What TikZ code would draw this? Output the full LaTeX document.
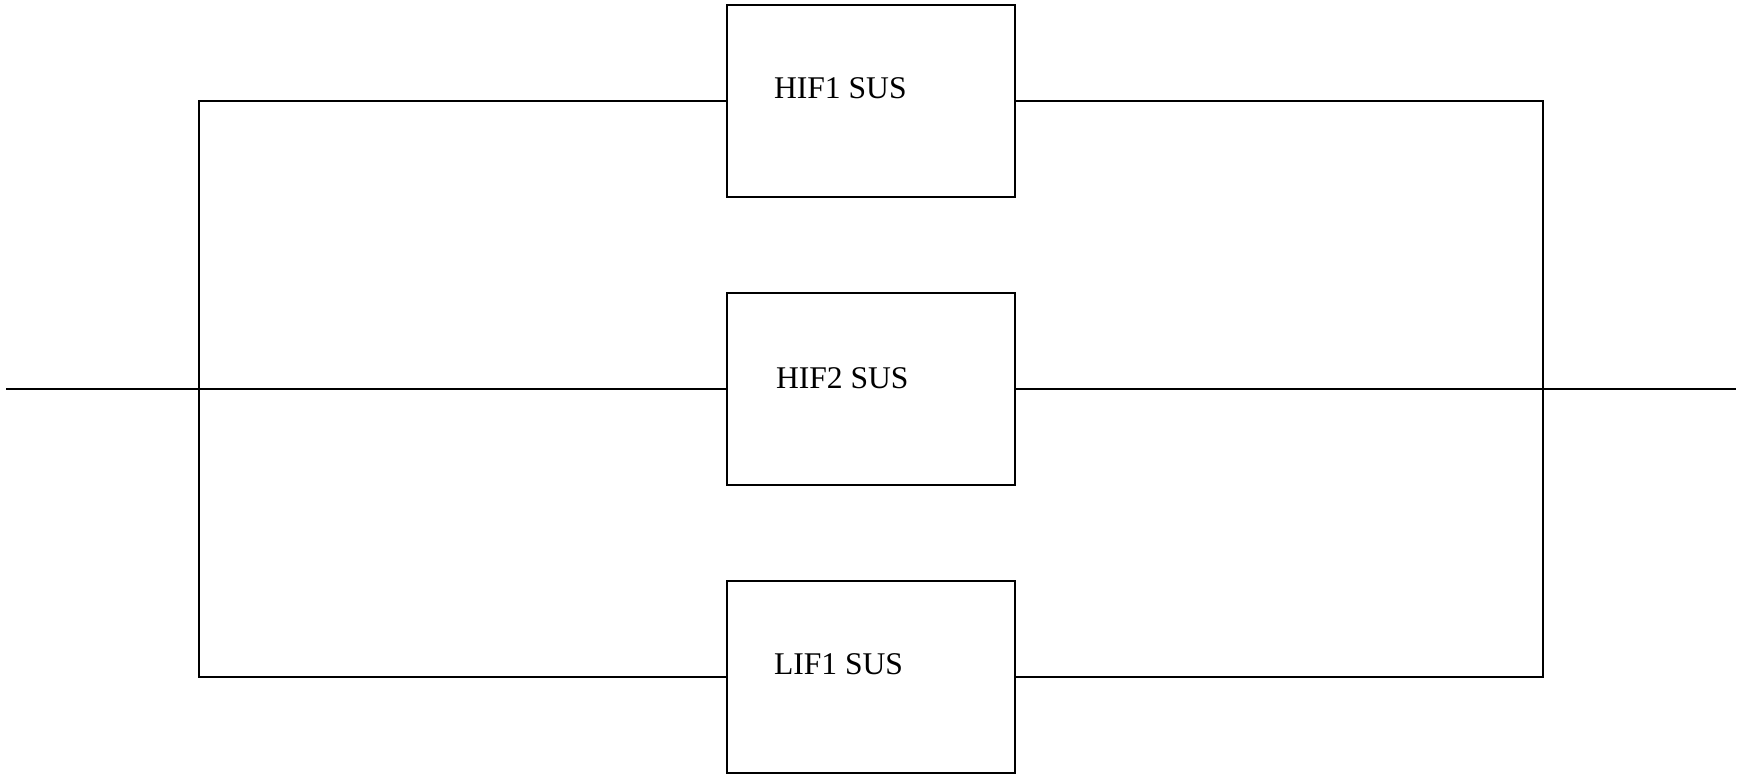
\documentclass[tikz,border=0pt]{standalone}
\usepackage{fontspec}
\setmainfont{Liberation Serif}
\usepackage{tikz}
\usetikzlibrary{positioning}
\tikzstyle{unitbox} = [
    draw,
    line width=1pt,
    minimum width=144pt,
    minimum height=96pt,
    inner sep=0pt
]
\tikzstyle{unitname} = [
    anchor=base west,
    inner sep=0pt,
    font=\fontsize{15.8}{19}\selectfont
]

\begin{document}
\begin{tikzpicture}[x=0.5pt,y=-0.5pt,line width=1pt]

\useasboundingbox (0,0) rectangle (1741,774);

\node[unitbox] (hif1) at (871,101) {};

\node[unitbox] (hif2) at (871,389) {};

\node[unitbox] (lif1) at (871,677) {};

\node[unitname] (hif1txt) at ([xshift=23.5pt,yshift=1pt]hif1.west) {HIF1 SUS};

\node[unitname] (hif2txt) at ([xshift=24.5pt,yshift=0pt]hif2.west) {HIF2 SUS};

\node[unitname] (lif1txt) at ([xshift=23.5pt,yshift=1pt]lif1.west) {LIF1 SUS};

\coordinate (in) at (6,389);
\coordinate (out) at (1736,389);
\coordinate (jl) at (199,389);
\coordinate (jr) at (1543,389);

\draw (in) -- (hif2.west);
\draw (hif2.east) -- (out);

\draw (hif1.west) -| (jl) |- (lif1.west);
\draw (hif1.east) -| (jr) |- (lif1.east);

\end{tikzpicture}
\end{document}
